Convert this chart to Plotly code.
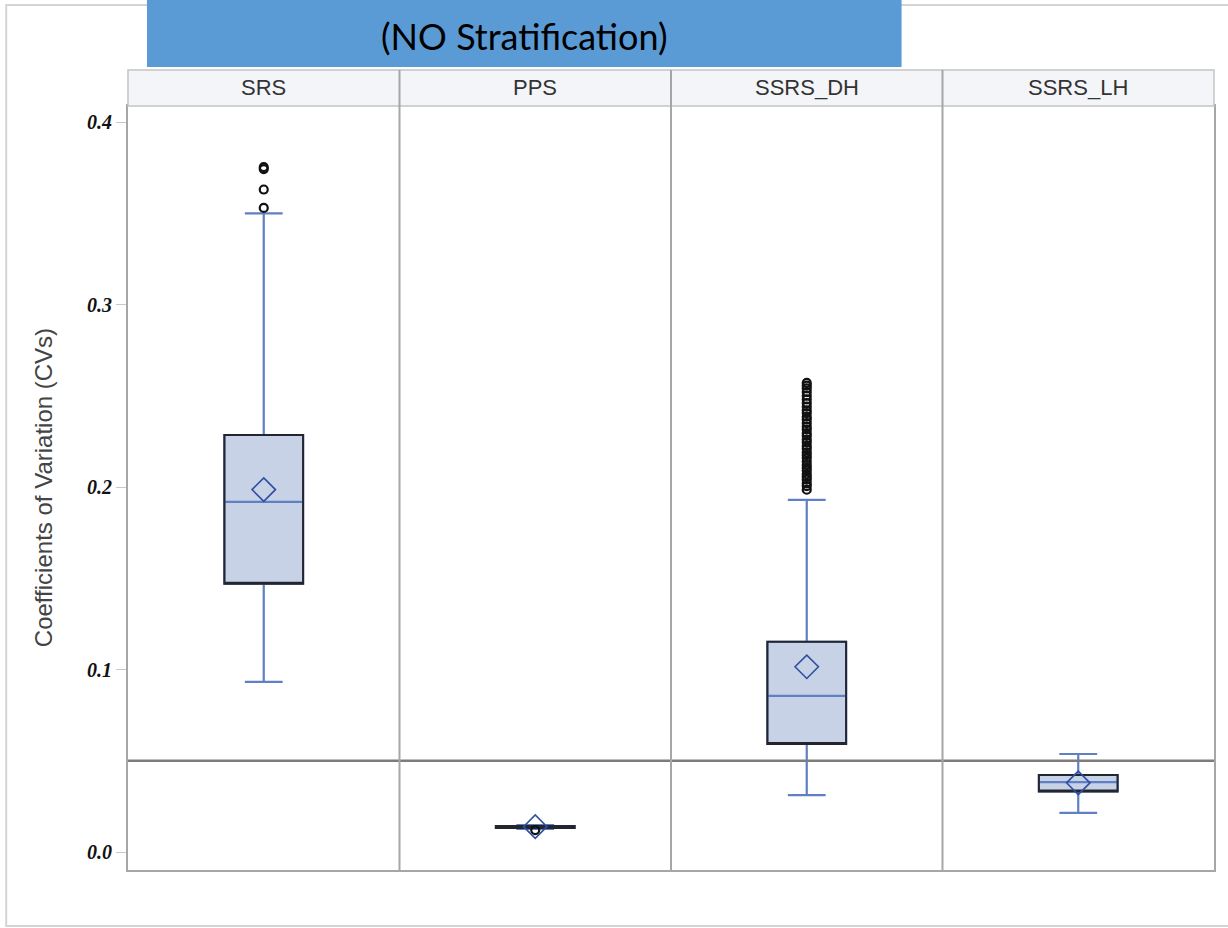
import plotly.graph_objects as go

# Sampling designs (one panel each) and their CV summary statistics
methods = ["SRS", "PPS", "SSRS_DH", "SSRS_LH"]
q1 = [0.1470, 0.0132, 0.0592, 0.0332]
median = [0.1918, 0.0137, 0.0855, 0.0383]
q3 = [0.2285, 0.0142, 0.1152, 0.0422]
lower_fence = [0.0932, 0.0126, 0.0312, 0.0214]
upper_fence = [0.3499, 0.0148, 0.1929, 0.0537]
means = [0.1986, 0.0139, 0.1015, 0.0379]

# Outlying CVs per design
srs_outliers = [0.3529, 0.3630, 0.3742, 0.3753]
pps_outliers = [0.0120]
dh_outliers = [0.1985, 0.2005, 0.2020, 0.2040, 0.2055, 0.2070, 0.2090, 0.2105,
               0.2120, 0.2140, 0.2160, 0.2175, 0.2190, 0.2210, 0.2225, 0.2245,
               0.2260, 0.2280, 0.2295, 0.2315, 0.2330, 0.2350, 0.2370, 0.2385,
               0.2405, 0.2420, 0.2440, 0.2460, 0.2480, 0.2500, 0.2520, 0.2540,
               0.2555, 0.2570]
lh_outliers = []
outliers = [srs_outliers, pps_outliers, dh_outliers, lh_outliers]

ref_level = 0.05
y_ticks = [0.0, 0.1, 0.2, 0.3, 0.4]

title_text = "(NO Stratification)"
y_title = "Coefficients of Variation (CVs)"

# Colours
FILL = "#c8d2e6"
WHISKER = "#5f80c2"
OUTLINE = "#23262e"
MEAN_C = "#2f4f9f"
PANEL_LINE = "#a6a6a6"

# Figure geometry (pixels)
W, H = 1228, 928
L, R, T, B = 128, 12, 106, 58
plot_w = W - L - R
plot_h = H - T - B
strip_h = 36


def px_x(p):
    return (p - L) / plot_w


def px_y(p):
    return (H - B - p) / plot_h


xs = list(range(len(methods)))

fig = go.Figure()

# Boxes with blue whiskers / median
fig.add_trace(go.Box(
    x=xs, q1=q1, median=median, q3=q3,
    lowerfence=lower_fence, upperfence=upper_fence,
    fillcolor=FILL, line=dict(color=WHISKER, width=2.2),
    width=0.29, whiskerwidth=0.48, boxpoints=False,
    hoverinfo="skip", showlegend=False,
))
# Dark box outline drawn over the blue one
fig.add_trace(go.Box(
    x=xs, q1=q1, median=q1, q3=q3,
    lowerfence=q1, upperfence=q3,
    fillcolor="rgba(0,0,0,0)", line=dict(color=OUTLINE, width=2),
    width=0.29, whiskerwidth=0, boxpoints=False,
    hoverinfo="skip", showlegend=False,
))

# Outliers
for i, vals in enumerate(outliers):
    if not vals:
        continue
    fig.add_trace(go.Scatter(
        x=[i] * len(vals), y=vals, mode="markers",
        marker=dict(symbol="circle-open", size=8, color="#111111",
                    line=dict(width=2.2, color="#111111")),
        showlegend=False, hoverinfo="skip",
    ))

# Means
fig.add_trace(go.Scatter(
    x=xs, y=means, mode="markers",
    marker=dict(symbol="diamond-open", size=18, color=MEAN_C,
                line=dict(width=1.6, color=MEAN_C)),
    showlegend=False, hoverinfo="skip",
))

shapes = []
# Outer frame around the whole graphic
shapes.append(dict(type="rect", xref="paper", yref="paper",
                   x0=px_x(6), x1=px_x(1240), y0=px_y(926), y1=px_y(5),
                   line=dict(color="#d4d4d4", width=2), fillcolor="rgba(0,0,0,0)",
                   layer="below"))
# Title box
shapes.append(dict(type="rect", xref="paper", yref="paper",
                   x0=px_x(147), x1=px_x(903), y0=px_y(67), y1=px_y(-5),
                   line=dict(width=0), fillcolor="#5b9bd5"))
# Panel header strip
shapes.append(dict(type="rect", xref="paper", yref="paper",
                   x0=0, x1=1, y0=1, y1=1 + strip_h / plot_h,
                   line=dict(color="#c4c4c4", width=1.5), fillcolor="#f4f5f9"))
# Reference line
shapes.append(dict(type="line", xref="paper", yref="y",
                   x0=0, x1=1, y0=ref_level, y1=ref_level,
                   line=dict(color="#7c7c7c", width=2.5)))
# Panel dividers
for k in range(1, len(methods)):
    shapes.append(dict(type="line", xref="x", yref="paper",
                       x0=k - 0.5, x1=k - 0.5, y0=0, y1=1 + strip_h / plot_h,
                       line=dict(color=PANEL_LINE, width=2)))

annotations = []
for i, m in enumerate(methods):
    annotations.append(dict(x=i, y=px_y(88), xref="x", yref="paper",
                            xanchor="center", yanchor="middle",
                            text=m, showarrow=False,
                            font=dict(family="Liberation Sans, Arial", size=22, color="#333333")))
annotations.append(dict(x=px_x(525), y=px_y(36), xref="paper", yref="paper",
                        xanchor="center", yanchor="middle",
                        text=title_text, showarrow=False,
                        font=dict(family="Lato, Open Sans", size=36, color="#000000")))
annotations.append(dict(x=px_x(43), y=px_y(488), xref="paper", yref="paper",
                        xanchor="center", yanchor="middle",
                        text=y_title, showarrow=False, textangle=-90,
                        font=dict(family="Liberation Sans, Arial", size=24, color="#444444")))

fig.update_layout(
    width=W, height=H, autosize=False,
    margin=dict(l=L, r=R, t=T, b=B),
    paper_bgcolor="white", plot_bgcolor="white",
    boxmode="overlay",
    shapes=shapes, annotations=annotations,
    showlegend=False,
)
fig.update_xaxes(
    range=[-0.5, len(methods) - 0.5], showticklabels=False, ticks="",
    showgrid=False, zeroline=False,
    showline=True, mirror=True, linecolor=PANEL_LINE, linewidth=2,
)
y_bottom = -18 / 1825
y_top = 0.4 + 16 / 1825
fig.update_yaxes(
    range=[y_bottom, y_top], tickvals=y_ticks, tickformat=".1f",
    ticks="outside", ticklen=10, tickcolor="#c8c8c8", tickwidth=1,
    tickfont=dict(family="Liberation Serif, Times New Roman", size=20,
                  color="#111111", weight="bold", style="italic"),
    showgrid=False, zeroline=False,
    showline=True, mirror=True, linecolor=PANEL_LINE, linewidth=2,
)

fig.write_html("out.html")
